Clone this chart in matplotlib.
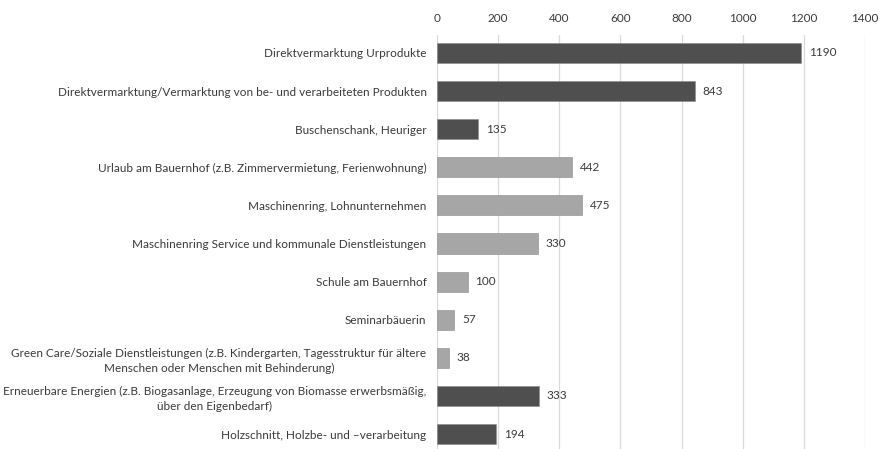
import matplotlib.pyplot as plt

categories = [
    "Direktvermarktung Urprodukte",
    "Direktvermarktung/Vermarktung von be- und verarbeiteten Produkten",
    "Buschenschank, Heuriger",
    "Urlaub am Bauernhof (z.B. Zimmervermietung, Ferienwohnung)",
    "Maschinenring, Lohnunternehmen",
    "Maschinenring Service und kommunale Dienstleistungen",
    "Schule am Bauernhof",
    "Seminarbäuerin",
    "Green Care/Soziale Dienstleistungen (z.B. Kindergarten, Tagesstruktur für ältere\nMenschen oder Menschen mit Behinderung)",
    "Erneuerbare Energien (z.B. Biogasanlage, Erzeugung von Biomasse erwerbsmäßig,\nüber den Eigenbedarf)",
    "Holzschnitt, Holzbe- und \u2013verarbeitung",
]
values = [1190, 843, 135, 442, 475, 330, 100, 57, 38, 333, 194]
groups = ["dark", "dark", "dark", "light", "light", "light", "light", "light", "light", "dark", "dark"]
x_ticks = [0, 200, 400, 600, 800, 1000, 1200, 1400]

palette = {"dark": "#4f4f4f", "light": "#a6a6a6"}
text_color = "#3a3a3a"
fs = 8.5

plt.rcParams["font.family"] = ["Lato", "DejaVu Sans"]

fig = plt.figure(figsize=(8.8, 4.49), dpi=100)
ax = fig.add_axes([437 / 880, 0.0, (865 - 437) / 880, 1 - 35 / 449])

pos = list(range(len(values)))
ax.barh(pos, values, height=0.53, color=[palette[g] for g in groups],
        edgecolor="#8a8a8a", linewidth=0.4, zorder=3)

for p, v in zip(pos, values):
    ax.text(v + 26, p, str(v), va="center", ha="left", fontsize=fs, color=text_color)

ax.set_xlim(0, 1400)
ax.set_ylim(10 + 15 / 38.1, -18 / 38.1)
ax.set_xticks(x_ticks)
ax.xaxis.tick_top()
ax.tick_params(axis="x", length=0, pad=8, labelsize=fs, labelcolor=text_color)
ax.set_yticks(pos)
ax.set_yticklabels(categories, fontsize=fs, color=text_color, ha="right",
                   multialignment="center", linespacing=1.5)
ax.tick_params(axis="y", length=0, pad=7.5)
ax.grid(axis="x", color="#d9d9d9", linewidth=0.9, zorder=0)
for s in ax.spines.values():
    s.set_visible(False)

fig.savefig("out.png", dpi=100)
